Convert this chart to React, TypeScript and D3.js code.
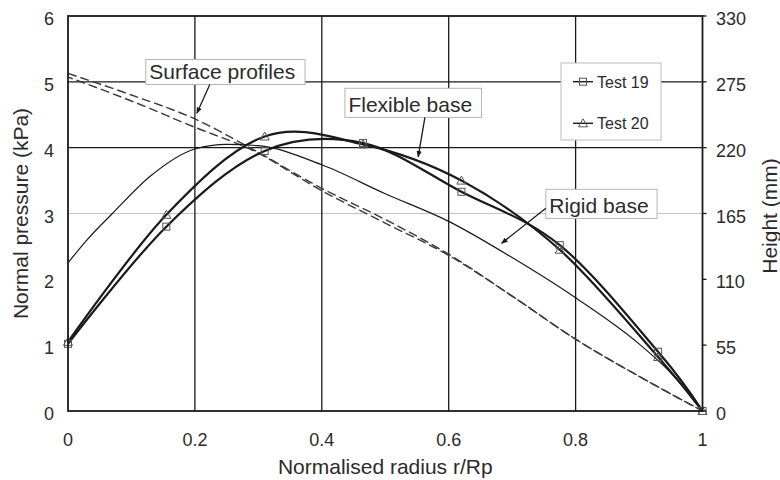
import React from 'react';
import * as d3 from 'd3';

// Pressure distribution under the two tests (kPa), sampled at the marker radii
const radius = [0, 0.155, 0.31, 0.465, 0.62, 0.775, 0.93, 1];
const test19 = [1.02, 2.8, 3.95, 4.07, 3.33, 2.52, 0.9, 0];
const test20 = [1.05, 2.98, 4.17, 4.05, 3.5, 2.45, 0.82, 0];

// Rigid base pressure (kPa)
const rigidR = [0, 0.03, 0.07, 0.13, 0.2, 0.25, 0.3, 0.4, 0.5, 0.6, 0.7, 0.8, 0.9, 0.95, 1];
const rigidP = [2.25, 2.6, 3.0, 3.57, 3.98, 4.05, 4.03, 3.74, 3.3, 2.88, 2.33, 1.72, 1.02, 0.58, 0];

// Surface profile heights (mm)
const profileR = [0, 0.1, 0.2, 0.29, 0.4, 0.5, 0.6, 0.7, 0.8, 0.9, 1];
const profile19 = [282, 264, 244, 219, 186, 160, 131, 96, 60, 29, 0];
const profile20 = [279, 259, 237, 218, 184, 157, 130, 96, 60, 29, 0];

const xTicks = [0, 0.2, 0.4, 0.6, 0.8, 1];
const xTickLabels = ['0', '0.2', '0.4', '0.6', '0.8', '1'];
const pressureTicks = [0, 1, 2, 3, 4, 5, 6];
const heightTicks = [0, 55, 110, 165, 220, 275, 330];
const legendNames = ['Test 19', 'Test 20'];

const W = 780;
const H = 480;
const M = { left: 68, right: 702.5, top: 16, bottom: 411 };
const FONT = '"Liberation Sans", Arial, Helvetica, sans-serif';
const INK = '#1a1a1a';
const TEXT = '#2b2b2b';

export default function App() {
  const x = d3.scaleLinear().domain([0, 1]).range([M.left, M.right]);
  const yP = d3.scaleLinear().domain([0, 6]).range([M.bottom, M.top]);
  const yH = d3.scaleLinear().domain([0, 330]).range([M.bottom, M.top]);

  const smooth = d3
    .line<[number, number]>()
    .x((d) => x(d[0]))
    .y((d) => yP(d[1]))
    .curve(d3.curveCardinal.tension(0));
  const mono = d3
    .line<[number, number]>()
    .x((d) => x(d[0]))
    .y((d) => yP(d[1]))
    .curve(d3.curveMonotoneX);
  const monoH = d3
    .line<[number, number]>()
    .x((d) => x(d[0]))
    .y((d) => yH(d[1]))
    .curve(d3.curveMonotoneX);

  const pts19 = radius.map((r, i) => [r, test19[i]] as [number, number]);
  const pts20 = radius.map((r, i) => [r, test20[i]] as [number, number]);
  const rigid = rigidR.map((r, i) => [r, rigidP[i]] as [number, number]);
  const prof19 = profileR.map((r, i) => [r, profile19[i]] as [number, number]);
  const prof20 = profileR.map((r, i) => [r, profile20[i]] as [number, number]);

  const square = (cx: number, cy: number, key: string) => (
    <rect key={key} x={cx - 3.5} y={cy - 3.5} width={7} height={7} fill="none" stroke="#555" strokeWidth={1} />
  );
  const triangle = (cx: number, cy: number, key: string) => (
    <path
      key={key}
      d={`M${cx},${cy - 4.5}L${cx + 4.5},${cy + 3.5}L${cx - 4.5},${cy + 3.5}Z`}
      fill="none"
      stroke="#555"
      strokeWidth={1}
    />
  );

  // Callout boxes with arrows, positioned in data units
  const callouts = [
    { text: 'Surface profiles', box: [0.1226, 5.339, 0.3735, 4.96], from: [0.2235, 4.96], to: [0.2031, 4.523] },
    { text: 'Flexible base', box: [0.4364, 4.902, 0.6517, 4.46], from: [0.5625, 4.46], to: [0.5519, 3.86] },
    { text: 'Rigid base', box: [0.7531, 3.367, 0.9284, 2.925], from: [0.7531, 3.078], to: [0.6834, 2.547] },
  ];

  return (
    <svg
      width={W}
      height={H}
      viewBox={`0 0 ${W} ${H}`}
      style={{ position: 'absolute', left: 0, top: 0, background: '#fff' }}
      fontFamily={FONT}
    >
      <defs>
        <marker id="arrowHead" viewBox="0 0 10 10" refX="9" refY="5" markerWidth="5" markerHeight="5" orient="auto">
          <path d="M0,1L10,5L0,9Z" fill={INK} />
        </marker>
      </defs>
      <rect x={0} y={0} width={W} height={H} fill="#fff" />

      {/* grid */}
      <line x1={M.left} x2={M.right} y1={yP(3)} y2={yP(3)} stroke="#c4c4c4" strokeWidth={1.2} />
      {[4, 5].map((v) => (
        <line key={`h${v}`} x1={M.left} x2={M.right} y1={yP(v)} y2={yP(v)} stroke={INK} strokeWidth={1.3} />
      ))}
      {xTicks.slice(1, -1).map((v) => (
        <line key={`v${v}`} x1={x(v)} x2={x(v)} y1={M.top} y2={M.bottom} stroke={INK} strokeWidth={1.3} />
      ))}

      {/* surface profiles */}
      <path d={monoH(prof19) || ''} fill="none" stroke="#3a3a3a" strokeWidth={1.4} strokeDasharray="9,4" />
      <path d={monoH(prof20) || ''} fill="none" stroke="#3a3a3a" strokeWidth={1.4} strokeDasharray="9,4" strokeDashoffset={4} />

      {/* rigid base */}
      <path d={mono(rigid) || ''} fill="none" stroke={INK} strokeWidth={1.2} />

      {/* flexible base tests */}
      <path d={smooth(pts19) || ''} fill="none" stroke={INK} strokeWidth={2.2} />
      <path d={smooth(pts20) || ''} fill="none" stroke={INK} strokeWidth={2.2} />
      {pts19.map((d, i) => square(x(d[0]), yP(d[1]), `s${i}`))}
      {pts20.map((d, i) => triangle(x(d[0]), yP(d[1]), `t${i}`))}

      {/* frame */}
      <rect
        x={M.left}
        y={M.top}
        width={M.right - M.left}
        height={M.bottom - M.top}
        fill="none"
        stroke={INK}
        strokeWidth={1.8}
      />

      {/* right axis ticks */}
      {heightTicks.map((v) => (
        <line key={`rt${v}`} x1={M.right} x2={M.right + 4} y1={yH(v)} y2={yH(v)} stroke={INK} strokeWidth={1.3} />
      ))}

      {/* tick labels */}
      {xTicks.map((v, i) => (
        <text key={`xl${v}`} x={x(v)} y={446} textAnchor="middle" fontSize={18} fill={TEXT}>
          {xTickLabels[i]}
        </text>
      ))}
      {pressureTicks.map((v) => (
        <text key={`yl${v}`} x={54} y={yP(v) + 9} textAnchor="end" fontSize={18} fill={TEXT}>
          {v}
        </text>
      ))}
      {heightTicks.map((v) => (
        <text key={`hl${v}`} x={716} y={yH(v) + 9} textAnchor="start" fontSize={18} fill={TEXT}>
          {v}
        </text>
      ))}

      {/* axis titles */}
      <text x={(M.left + M.right) / 2} y={474} textAnchor="middle" fontSize={21} fill={TEXT}>
        Normalised radius r/Rp
      </text>
      <text transform={`translate(27.5,${(M.top + M.bottom) / 2}) rotate(-90)`} textAnchor="middle" fontSize={21} fill={TEXT}>
        Normal pressure (kPa)
      </text>
      <text transform={`translate(776.5,216) rotate(-90)`} textAnchor="middle" fontSize={21} fill={TEXT}>
        Height (mm)
      </text>

      {/* callouts */}
      {callouts.map((c) => {
        const bx0 = x(c.box[0]);
        const by0 = yP(c.box[1]);
        const bx1 = x(c.box[2]);
        const by1 = yP(c.box[3]);
        return (
          <g key={c.text}>
            <rect x={bx0} y={by0} width={bx1 - bx0} height={by1 - by0} fill="#fff" stroke="#b5b5b5" strokeWidth={1} />
            <text x={bx0 + 3.5} y={by1 - 5.5} fontSize={21} fill={TEXT}>
              {c.text}
            </text>
            <line
              x1={x(c.from[0])}
              y1={yP(c.from[1])}
              x2={x(c.to[0])}
              y2={yP(c.to[1])}
              stroke={INK}
              strokeWidth={1.3}
              markerEnd="url(#arrowHead)"
            />
          </g>
        );
      })}

      {/* legend */}
      <rect x={561} y={63} width={100} height={77} fill="#fff" stroke="#bdbdbd" strokeWidth={1} />
      {legendNames.map((name, i) => {
        const ly = 81.7 + i * 41.6;
        return (
          <g key={name}>
            <line x1={573} x2={593} y1={ly} y2={ly} stroke={INK} strokeWidth={1.4} />
            {i === 0 ? square(583, ly, 'ls') : triangle(583, ly, 'lt')}
            <text x={597} y={ly + 6} fontSize={16} fill={TEXT}>
              {name}
            </text>
          </g>
        );
      })}
    </svg>
  );
}
